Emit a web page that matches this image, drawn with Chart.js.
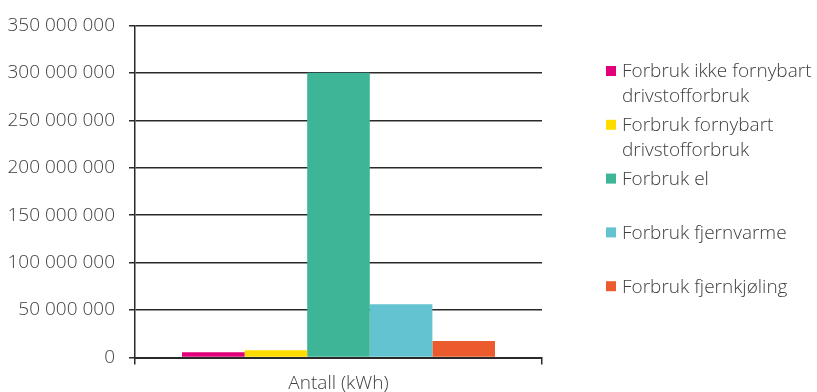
<!DOCTYPE html>
<html>
<head>
<meta charset="utf-8">
<script src="https://cdn.jsdelivr.net/npm/chart.js@4/dist/chart.umd.min.js"></script>
<style>
  html, body { margin: 0; padding: 0; background: #fff; }
  #wrap { position: relative; width: 817px; height: 392px; }
</style>
</head>
<body>
<div id="wrap"><canvas id="c" width="817" height="392"></canvas></div>
<script>
// Energiforbruk fordelt på kilde (kWh)
const categories = ["Antall (kWh)"];
const seriesNames = [
  ["Forbruk ikke fornybart", "drivstofforbruk"],
  ["Forbruk fornybart", "drivstofforbruk"],
  ["Forbruk el"],
  ["Forbruk fjernvarme"],
  ["Forbruk fjernkjøling"]
];
const seriesValues = [
  [5600000],
  [7700000],
  [300000000],
  [56000000],
  [17300000]
];
const seriesColors = ["#E2007A", "#FFDC00", "#3EB596", "#63C3D0", "#EC5B2D"];
const yTicks = [0, 50000000, 100000000, 150000000, 200000000, 250000000, 300000000, 350000000];

const FONT = "'Open Sans', 'DejaVu Sans', sans-serif";
const TEXT = "#404040";
const LINE = "#2a2a2a";

const fmt = v => String(v).replace(/\B(?=(\d{3})+(?!\d))/g, " ");

// Legend on the right, one entry per series, wrapped over explicit lines
const sideLegend = {
  id: "sideLegend",
  afterDraw(chart) {
    const ctx = chart.ctx;
    ctx.save();
    ctx.font = "300 19px " + FONT;
    ctx.fillStyle = TEXT;
    ctx.textBaseline = "middle";
    chart.data.datasets.forEach((ds, i) => {
      const top = 66 + i * 53.8;
      ctx.fillStyle = ds.backgroundColor;
      ctx.fillRect(606, top, 10, 10);
      ctx.fillStyle = TEXT;
      ds.label.forEach((line, k) => {
        ctx.fillText(line, 622, top + 6 + k * 24.5);
      });
    });
    ctx.restore();
  }
};

new Chart(document.getElementById("c"), {
  type: "bar",
  data: {
    labels: categories,
    datasets: seriesNames.map((name, i) => ({
      label: name,
      data: seriesValues[i],
      backgroundColor: seriesColors[i],
      borderWidth: 0,
      categoryPercentage: 0.769,
      barPercentage: 1.0
    }))
  },
  options: {
    responsive: false,
    animation: false,
    devicePixelRatio: 1,
    layout: { padding: { top: 23, right: 275, left: 0, bottom: 0 } },
    plugins: {
      legend: { display: false },
      tooltip: { enabled: false }
    },
    scales: {
      x: {
        z: 1,
        grid: {
          drawOnChartArea: false,
          drawTicks: true,
          tickLength: 7,
          color: LINE,
          lineWidth: 1.5
        },
        border: { display: true, color: LINE, width: 2 },
        ticks: { color: TEXT, font: { family: FONT, size: 19, weight: 300 }, padding: 8 },
        afterFit(scale) { scale.height = 34.5; }
      },
      y: {
        min: 0,
        max: 350000000,
        afterBuildTicks(scale) { scale.ticks = yTicks.map(v => ({ value: v })); },
        grid: {
          color: LINE,
          lineWidth: 1.5,
          drawTicks: true,
          tickLength: 6
        },
        border: { display: true, color: LINE, width: 1.5 },
        ticks: {
          color: TEXT,
          font: { family: FONT, size: 19, weight: 300 },
          padding: 14,
          callback: v => fmt(v)
        },
        afterFit(scale) { scale.width = 135; }
      }
    }
  },
  plugins: [sideLegend]
});
</script>
</body>
</html>
